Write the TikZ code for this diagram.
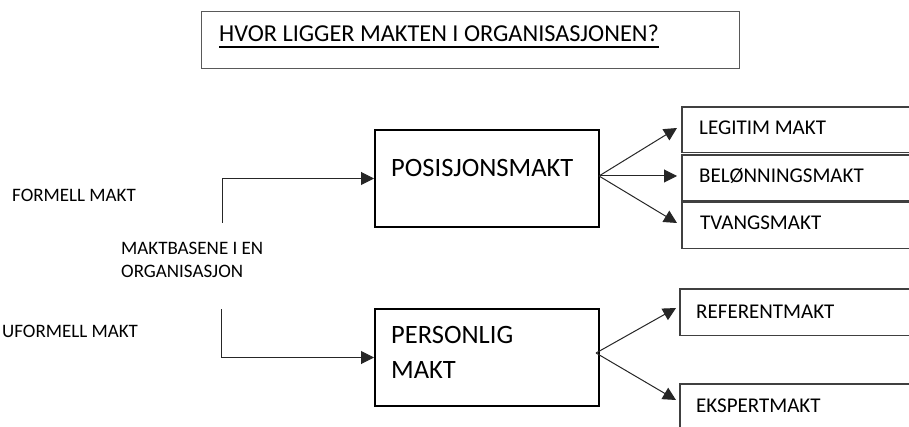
\documentclass[tikz,border=0pt]{standalone}
\usepackage{fontspec}
\setmainfont{Carlito}
\usetikzlibrary{arrows.meta}
\begin{document}
\begin{tikzpicture}[x=1pt,y=-1pt,
  bigbox/.style={draw=black,line width=2pt,minimum width=224pt,minimum height=97pt,anchor=north west,inner sep=0pt},
  rbox/.style={draw=none,anchor=north west,inner sep=0pt},
  rline/.style={draw=black!75,line width=1.3pt},
  titlebox/.style={draw=black!65,line width=1.3pt,minimum width=538pt,minimum height=57pt,anchor=north west,inner sep=0pt},
  bigtxt/.style={font=\fontsize{26.5}{35}\selectfont,anchor=base west,inner sep=0pt},
  medtxt/.style={font=\fontsize{21}{25}\selectfont,anchor=base west,inner sep=0pt},
  smalltxt/.style={font=\fontsize{19}{22}\selectfont,anchor=base west,inner sep=0pt},
  conn/.style={draw=black!85,line width=1pt,-{Triangle[length=13pt,width=13pt]}}
]
\useasboundingbox (0,0) rectangle (909,427);
% title
\node[titlebox] (tbox) at (201,11) {};
\node[anchor=base west,inner sep=0pt,font=\fontsize{24.3}{28}\selectfont] (ttxt) at (219,42) {HVOR LIGGER MAKTEN I ORGANISASJONEN?};
\draw[line width=2pt] (ttxt.base west) ++(0,5.5) coordinate (ul1) -- (ul1 -| ttxt.base east);
% left labels
\node[smalltxt] (formell) at (12,202) {FORMELL MAKT};
\node[smalltxt] (mb1) at (121,255) {MAKTBASENE I EN};
\node[smalltxt] (mb2) at (121,277) {ORGANISASJON};
\node[smalltxt] (uformell) at (2,337) {UFORMELL MAKT};
% main boxes
\node[bigbox] (posbox) at (374,129) {};
\node[bigtxt] (postxt) at (391,177) {POSISJONSMAKT};
\node[bigbox] (persbox) at (374,308) {};
\node[bigtxt] (perstxt1) at (391,343) {PERSONLIG};
\node[bigtxt] (perstxt2) at (391,378) {MAKT};
% right boxes (their right sides lie beyond the picture)
\node[rbox,minimum width=227pt,minimum height=45pt] (legbox) at (682,107) {};
\node[rbox,minimum width=227pt,minimum height=45pt] (belbox) at (682,155) {};
\node[rbox,minimum width=227pt,minimum height=46pt] (tvbox) at (682,202) {};
\node[rbox,minimum width=229pt,minimum height=46pt] (refbox) at (680,289) {};
\node[rbox,minimum width=229pt,minimum height=43pt] (eksbox) at (680,384) {};
\foreach \b in {legbox,belbox,tvbox,refbox}{
  \draw[rline] (\b.north east) -- (\b.north west) -- (\b.south west) -- (\b.south east);
}
\draw[rline] (eksbox.north east) -- (eksbox.north west) -- (eksbox.south west);
\node[medtxt] (legtxt) at (699,135) {LEGITIM MAKT};
\node[medtxt] (beltxt) at (699,183) {BELØNNINGSMAKT};
\node[medtxt] (tvtxt) at (700,230) {TVANGSMAKT};
\node[medtxt] (reftxt) at (696,318) {REFERENTMAKT};
\node[medtxt] (ekstxt) at (696,412) {EKSPERTMAKT};
% connectors
\coordinate (fstart) at (222,223);
\coordinate (ustart) at (221,309);
\draw[conn] (fstart) |- (posbox.west);
\draw[conn] (ustart) |- (persbox.west);
\coordinate (legin) at (677,128);
\coordinate (belin) at (677,176);
\coordinate (tvin) at (677,223);
\coordinate (refin) at (676,308);
\coordinate (eksin) at (676,400);
\coordinate (posout) at (599,176);
\coordinate (persout) at (596,353);
\draw[conn] (posout) -- (legin);
\draw[conn] (posout) -- (belin);
\draw[conn] (posout) -- (tvin);
\draw[conn] (persout) -- (refin);
\draw[conn] (persout) -- (eksin);
\end{tikzpicture}
\end{document}
